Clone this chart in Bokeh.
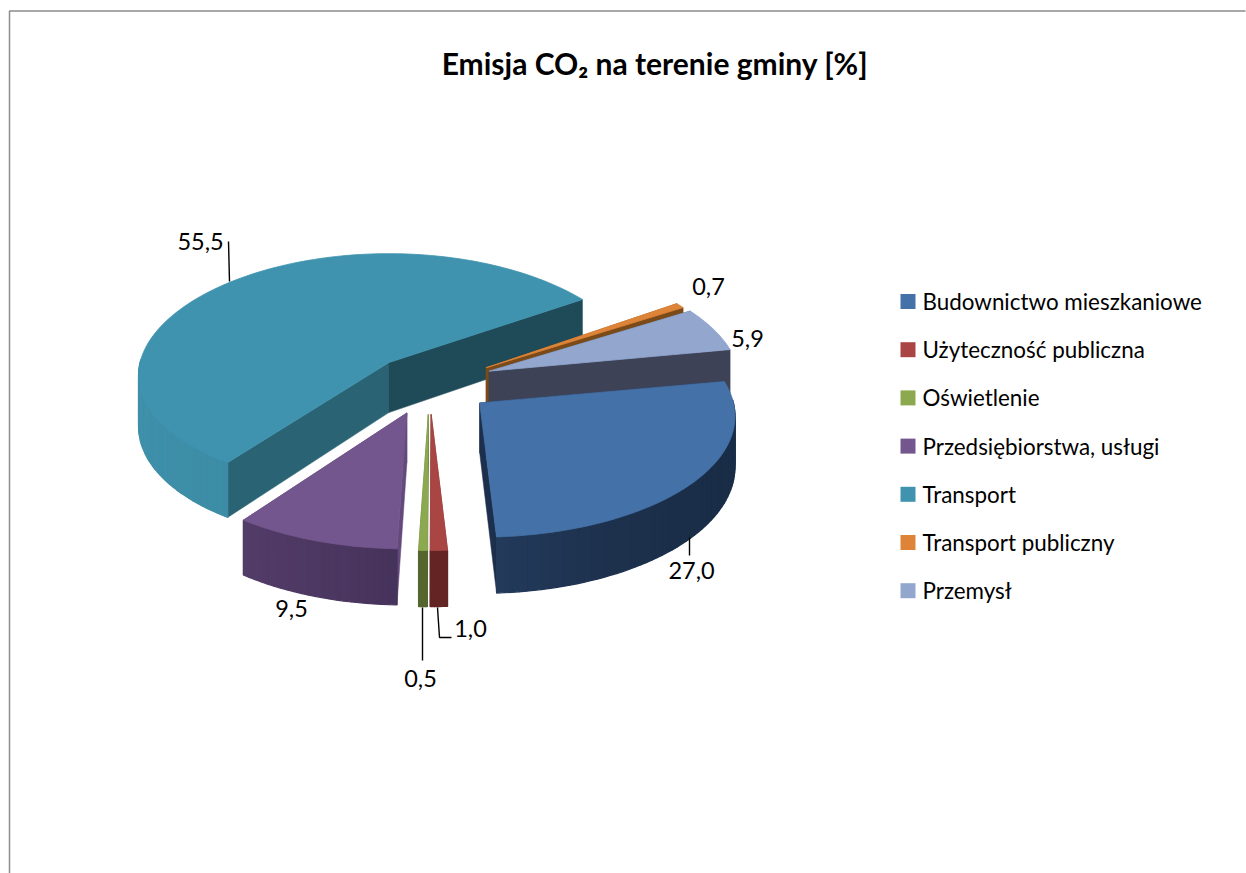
import numpy as np
from bokeh.plotting import figure
from bokeh.embed import file_html
from bokeh.resources import INLINE
from bokeh.core.properties import value

categories = ["Budownictwo mieszkaniowe", "Użyteczność publiczna", "Oświetlenie",
              "Przedsiębiorstwa, usługi", "Transport", "Transport publiczny", "Przemysł"]
values = [27.0, 1.0, 0.5, 9.5, 55.5, 0.7, 5.9]
explode = [0.26, 0.24, 0.24, 0.24, 0.24, 0.27, 0.26]

top_colors = ["#4471A7", "#A94644", "#8CA94F", "#72568D", "#3F93AE", "#DE8439", "#92A6CE"]
radial_start = ["#1C2F4C", "#632524", "#55662F", "#64497C", "#2A6474", "#7A4A18", "#3D4256"]
radial_end = ["#1C2F4C", "#632524", "#55662F", "#64497C", "#1F4A58", "#7A4A18", "#3D4256"]
outer_front = ["#1A2D47", "#632524", "#55662F", "#45325A", "#38879F", "#7A4A18", "#3D4256"]
outer_left = ["#253C5E", "#632524", "#55662F", "#5C4472", "#3F90AA", "#7A4A18", "#3D4256"]

CX, CY, RX, RY, K, DEPTH = 429.0, 385.0, 250.0, 121.0, 0.11, 50.0
A0 = 79.5
# small per-slice corrections for the reference's perspective
R_SCALE = [1.015, 0.985, 1, 1.01, 0.995, 0.98, 1]
RY_SLICE = [119.5, 121, 121, 121, 116.7, 121, 121]
K_Y = [0.11, 0.11, 0.11, 0.11, 0.071, 0.11, 0.11]
NUDGE_X = [-1, 0, 0, -3, 1, 0, -1]
NUDGE_Y = [-2, 0, 0, 0, -2, 0, -3]
total = sum(values)
draw_order = [4, 5, 6, 0, 3, 2, 1]

W, H = 1246, 873
p = figure(width=W, height=H, x_range=(0, W), y_range=(H, 0),
           output_backend="svg", toolbar_location=None, min_border=0,
           outline_line_color=None)
p.axis.visible = False
p.grid.visible = False
p.background_fill_color = "white"
p.border_fill_color = "white"

# chart frame
p.line([9, 9, 1245], [880, 10.5, 10.5], line_color="#8C8C8C", line_width=1.5)


def project(i, ax, ay, a_deg):
    a = np.radians(a_deg)
    u, v = np.sin(a), -np.cos(a)
    s = 1 / (1 - K * v)
    sy = 1 / (1 - K_Y[i] * v)
    return ax + RX * R_SCALE[i] * u * s, ay + RY_SLICE[i] * v * sy, DEPTH * s


def hex_mix(c1, c2, t):
    a = [int(c1[i:i + 2], 16) for i in (1, 3, 5)]
    b = [int(c2[i:i + 2], 16) for i in (1, 3, 5)]
    return "#%02x%02x%02x" % tuple(int(round(x + (y - x) * t)) for x, y in zip(a, b))


starts, ends, apexes = [], [], []
cur = A0
for i, (val, e) in enumerate(zip(values, explode)):
    sweep = val / total * 360
    s, f = cur, cur + sweep
    m = np.radians((s + f) / 2)
    apexes.append((CX + e * RX * np.sin(m) + NUDGE_X[i], CY - e * RY * np.cos(m) + NUDGE_Y[i]))
    starts.append(s)
    ends.append(f)
    cur = f

for i in draw_order:
    s, f = starts[i], ends[i]
    ax, ay = apexes[i]
    n = max(4, int((f - s) / 1.5))
    ang = np.linspace(s, f, n + 1)
    xs, ys, ds = project(i, ax, ay, ang)

    # radial walls
    for a_idx, col in ((0, radial_start[i]), (-1, radial_end[i])):
        p.patch([ax, xs[a_idx], xs[a_idx], ax],
                [ay, ys[a_idx], ys[a_idx] + ds[a_idx], ay + DEPTH],
                fill_color=col, line_color=col, line_width=0.5)

    # outer wall, only the part turned to the viewer, stepped shading
    for j in range(n):
        am = (ang[j] + ang[j + 1]) / 2
        if np.cos(np.radians(am)) > 0.02:
            continue
        t = float(np.clip(abs(np.sin(np.radians(am))), 0, 1))
        col = hex_mix(outer_front[i], outer_left[i], t if am > 180 else (1 - t) ** 2)
        p.patch([xs[j], xs[j + 1], xs[j + 1], xs[j]],
                [ys[j], ys[j + 1], ys[j + 1] + ds[j + 1], ys[j] + ds[j]],
                fill_color=col, line_color=col, line_width=1.2)

    # top face
    p.patch(np.r_[ax, xs], np.r_[ay, ys], fill_color=top_colors[i],
            line_color=top_colors[i], line_width=0.8)

# data labels and leader lines
label_x = [691, 470, 420, 291, 200, 708, 747]
label_y = [570, 628, 678, 608, 241, 286, 338]
labels = [f"{v:.1f}".replace(".", ",") for v in values]
p.text(label_x, label_y, text=labels, text_font=value("Lato"), text_font_size="23.5px",
       text_align="center", text_baseline="middle", text_color="#000000")
p.line([689, 689], [537, 555], line_color="#000000", line_width=1.4)
p.line([437, 439, 451], [607, 637, 637], line_color="#000000", line_width=1.4)
p.line([422, 422], [607, 660], line_color="#000000", line_width=1.4)
p.line([228, 229], [241, 281], line_color="#000000", line_width=1.4)

# legend
row_h = 48.2
leg_y = [301 + row_h * i for i in range(len(categories))]
p.rect([907.5] * len(categories), leg_y, width=15, height=15, fill_color=top_colors, line_color=None)
p.text([922] * len(categories), leg_y, text=categories, text_font=value("Lato"), text_font_size="22.4px",
       text_align="left", text_baseline="middle", text_color="#000000")

# title
p.text([654.5], [62], text=["Emisja CO₂ na terenie gminy [%]"], text_font=value("Lato"), text_font_size="30px",
       text_font_style="bold", text_align="center", text_baseline="middle", text_color="#000000")

open("out.html", "w").write(file_html(p, INLINE))
